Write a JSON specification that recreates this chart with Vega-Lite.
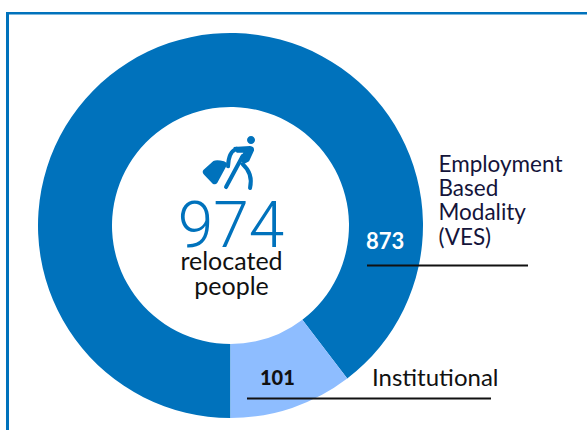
{
  "$schema": "https://vega.github.io/schema/vega-lite/v6.json",
  "autosize": {"type": "none"},
  "width": 587,
  "height": 430,
  "padding": 0,
  "background": "white",
  "view": {"stroke": null},
  "config": {"font": "Lato"},
  "datasets": {
    "modes": [
      {"modality": "Employment Based Modality (VES)", "people": 873},
      {"modality": "Institutional", "people": 101}
    ]
  },
  "layer": [
    {
      "data": {"name": "modes"},
      "mark": {"type": "arc", "innerRadius": 118.5, "outerRadius": 192.5},
      "encoding": {
        "x": {"datum": 230.5, "type": "quantitative", "scale": {"domain": [0, 587], "nice": false, "zero": false}, "axis": null},
        "y": {"datum": 225.5, "type": "quantitative", "scale": {"domain": [430, 0], "nice": false, "zero": false}, "axis": null},
        "theta": {"field": "people", "type": "quantitative", "stack": true, "scale": {"range": [3.14159265, 9.42477796]}},
        "order": {"field": "people", "sort": "descending"},
        "color": {"field": "modality", "type": "nominal", "scale": {"domain": ["Employment Based Modality (VES)", "Institutional"], "range": ["#0072bc", "#8ebdff"]}, "legend": null}
      }
    },
    {
      "data": {"values": [{"a": 1}]},
      "mark": {"type": "rule", "stroke": "#0072bc", "strokeWidth": 3},
      "encoding": {"x": {"datum": 7.5, "type": "quantitative"}, "y": {"datum": 12, "type": "quantitative"}, "y2": {"datum": 430}}
    },
    {
      "data": {"values": [{"a": 1}]},
      "mark": {"type": "rule", "stroke": "#0072bc", "strokeWidth": 2.5},
      "encoding": {"x": {"datum": 6, "type": "quantitative"}, "x2": {"datum": 587}, "y": {"datum": 13.3, "type": "quantitative"}}
    },
    {
      "data": {"values": [{"a": 1}]},
      "mark": {"type": "rule", "stroke": "#111111", "strokeWidth": 1.8},
      "encoding": {"x": {"datum": 367, "type": "quantitative"}, "x2": {"datum": 528}, "y": {"datum": 265.5, "type": "quantitative"}}
    },
    {
      "data": {"values": [{"a": 1}]},
      "mark": {"type": "rule", "stroke": "#111111", "strokeWidth": 1.8},
      "encoding": {"x": {"datum": 247, "type": "quantitative"}, "x2": {"datum": 491}, "y": {"datum": 398.5, "type": "quantitative"}}
    },
    {
      "data": {"values": [{"a": 1}]},
      "mark": {"type": "point", "filled": true, "opacity": 1, "color": "#0072bc", "size": 3600,
        "shape": "M0.777 -0.789 A0.133 0.133 0 1 1 0.511 -0.789 A0.133 0.133 0 1 1 0.777 -0.789 Z M-0.944 0.211 L-0.611 -0.089 Q-0.5 -0.15 -0.256 -0.078 Q-0.12 -0.02 -0.167 0.056 L-0.478 0.633 Q-0.54 0.72 -0.633 0.667 L-0.92 0.37 Q-1 0.28 -0.944 0.211 Z M0.056 -0.556 L0.611 -0.589 Q0.76 -0.57 0.744 -0.444 L0.58 -0.08 L0.38 0.03 L0.278 -0.222 L0.389 -0.367 L0.167 -0.367 Z"},
      "encoding": {"x": {"datum": 231.7, "type": "quantitative"}, "y": {"datum": 163.7, "type": "quantitative"}}
    },
    {
      "data": {"values": [{"a": 1}]},
      "mark": {"type": "point", "filled": false, "opacity": 1, "color": "#0072bc", "strokeWidth": 4, "strokeCap": "round", "size": 3600,
        "shape": "M-0.122 0.089 Q-0.111 -0.389 0.167 -0.5 M0.367 -0.256 L-0.189 0.778 M0.367 0.022 Q0.722 0.333 0.611 0.811"},
      "encoding": {"x": {"datum": 231.7, "type": "quantitative"}, "y": {"datum": 163.7, "type": "quantitative"}}
    },
    {
      "data": {"values": [{"t": "974"}]},
      "mark": {"type": "text", "font": "Roboto", "fontSize": 64, "fontWeight": 300, "color": "#0072bc", "align": "center", "baseline": "alphabetic"},
      "encoding": {"x": {"datum": 231, "type": "quantitative"}, "y": {"datum": 247, "type": "quantitative"}, "text": {"field": "t"}}
    },
    {
      "data": {"values": [{"t": "relocated"}]},
      "mark": {"type": "text", "fontSize": 25, "color": "#111111", "align": "center", "baseline": "alphabetic"},
      "encoding": {"x": {"datum": 231.5, "type": "quantitative"}, "y": {"datum": 270, "type": "quantitative"}, "text": {"field": "t"}}
    },
    {
      "data": {"values": [{"t": "people"}]},
      "mark": {"type": "text", "fontSize": 25, "color": "#111111", "align": "center", "baseline": "alphabetic"},
      "encoding": {"x": {"datum": 231.5, "type": "quantitative"}, "y": {"datum": 295, "type": "quantitative"}, "text": {"field": "t"}}
    },
    {
      "data": {"name": "modes"},
      "transform": [{"filter": "datum.people == 873"}],
      "mark": {"type": "text", "fontSize": 22, "fontWeight": 700, "color": "white", "align": "left", "baseline": "alphabetic"},
      "encoding": {"x": {"datum": 366, "type": "quantitative"}, "y": {"datum": 249, "type": "quantitative"}, "text": {"field": "people"}}
    },
    {
      "data": {"name": "modes"},
      "transform": [{"filter": "datum.people == 101"}],
      "mark": {"type": "text", "fontSize": 20, "fontWeight": 900, "color": "#111111", "align": "left", "baseline": "alphabetic"},
      "encoding": {"x": {"datum": 260, "type": "quantitative"}, "y": {"datum": 385, "type": "quantitative"}, "text": {"field": "people"}}
    },
    {
      "data": {"values": [{"t": "Institutional"}]},
      "mark": {"type": "text", "fontSize": 24, "color": "#111111", "align": "left", "baseline": "alphabetic"},
      "encoding": {"x": {"datum": 372, "type": "quantitative"}, "y": {"datum": 386, "type": "quantitative"}, "text": {"field": "t"}}
    },
    {
      "data": {"values": [{"t": "Employment\nBased\nModality\n(VES)"}]},
      "mark": {"type": "text", "fontSize": 22.5, "color": "#14143a", "align": "left", "baseline": "alphabetic", "lineBreak": "\n", "lineHeight": 24.4},
      "encoding": {"x": {"datum": 438.5, "type": "quantitative"}, "y": {"datum": 171.5, "type": "quantitative"}, "text": {"field": "t"}}
    }
  ]
}
